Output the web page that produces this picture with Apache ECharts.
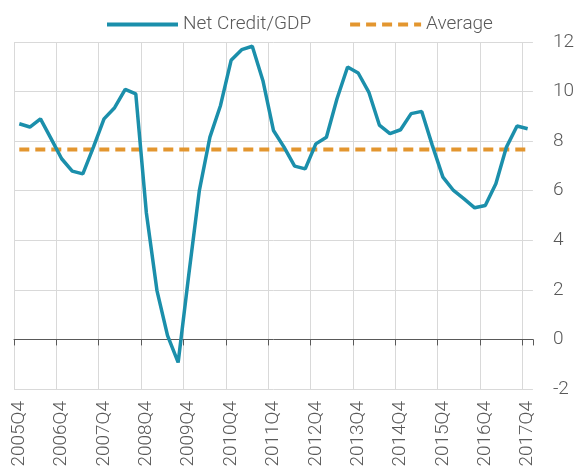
<!DOCTYPE html>
<html>
<head>
    <meta charset="utf-8">
    <title>Net Credit/GDP</title>
    <script src="https://cdn.jsdelivr.net/npm/echarts@6/dist/echarts.min.js"></script>
    <style>
        html, body {margin: 0; padding: 0; background: #ffffff;}
        #chart {width: 577px; height: 476px;}
    </style>
</head>
<body>
<div id="chart"></div>
<script>
    // quarters 2005Q4 .. 2017Q4
    var quarters = [
        '2005Q4', '2006Q1', '2006Q2', '2006Q3', '2006Q4', '2007Q1', '2007Q2', '2007Q3',
        '2007Q4', '2008Q1', '2008Q2', '2008Q3', '2008Q4', '2009Q1', '2009Q2', '2009Q3',
        '2009Q4', '2010Q1', '2010Q2', '2010Q3', '2010Q4', '2011Q1', '2011Q2', '2011Q3',
        '2011Q4', '2012Q1', '2012Q2', '2012Q3', '2012Q4', '2013Q1', '2013Q2', '2013Q3',
        '2013Q4', '2014Q1', '2014Q2', '2014Q3', '2014Q4', '2015Q1', '2015Q2', '2015Q3',
        '2015Q4', '2016Q1', '2016Q2', '2016Q3', '2016Q4', '2017Q1', '2017Q2', '2017Q3',
        '2017Q4'
    ];
    var netCredit = [
        8.70, 8.57, 8.90, 8.10, 7.29, 6.79, 6.68, 7.76,
        8.90, 9.35, 10.09, 9.91, 5.10, 1.97, 0.15, -0.93,
        2.60, 6.00, 8.16, 9.44, 11.26, 11.69, 11.83, 10.45,
        8.43, 7.76, 6.99, 6.88, 7.89, 8.16, 9.71, 10.99,
        10.75, 9.98, 8.65, 8.30, 8.46, 9.11, 9.20, 7.83,
        6.55, 6.01, 5.67, 5.31, 5.40, 6.28, 7.76, 8.61,
        8.50
    ];
    var averageLevel = 7.66;
    var yTicks = {min: -2, max: 12, step: 2};

    var txt = '#595959';
    var font = 'Roboto';

    var chart = echarts.init(document.getElementById('chart'));

    var option = {
        animation: false,
        legend: {
            left: 100,
            top: 10,
            itemWidth: 71,
            itemHeight: 20,
            itemGap: 37,
            itemStyle: {opacity: 0},
            lineStyle: {width: 4},
            textStyle: {color: txt, fontSize: 19, fontFamily: font, fontWeight: 300},
            data: ['Net Credit/GDP', 'Average']
        },
        grid: {left: 14, right: 44, top: 42, bottom: 87},
        xAxis: [
            {
                type: 'category',
                data: quarters,
                boundaryGap: true,
                position: 'bottom',
                axisLine: {onZero: true, lineStyle: {color: '#595959', width: 1}},
                axisTick: {show: true, interval: 3, length: 6, lineStyle: {color: '#595959'}},
                axisLabel: {show: false},
                splitLine: {
                    show: true,
                    interval: 3,
                    showMaxLine: false,
                    lineStyle: {color: '#d9d9d9', width: 1}
                }
            },
            {
                type: 'category',
                data: quarters,
                boundaryGap: true,
                position: 'bottom',
                axisLine: {show: false, onZero: false},
                axisTick: {show: false},
                splitLine: {show: false},
                axisLabel: {
                    interval: 3,
                    rotate: 90,
                    margin: 12,
                    color: txt,
                    fontSize: 19,
                    fontFamily: font,
                    fontWeight: 300
                }
            }
        ],
        yAxis: {
            type: 'value',
            position: 'right',
            min: yTicks.min,
            max: yTicks.max,
            interval: yTicks.step,
            axisLine: {show: false},
            axisTick: {show: false},
            axisLabel: {margin: 20, color: txt, fontSize: 19, fontFamily: font, fontWeight: 300},
            splitLine: {lineStyle: {color: '#d9d9d9', width: 1}}
        },
        series: [
            {
                name: 'Net Credit/GDP',
                type: 'line',
                data: netCredit,
                symbol: 'none',
                lineStyle: {color: '#1b8fab', width: 3.5},
                itemStyle: {color: '#1b8fab'},
                z: 3
            },
            {
                name: 'Average',
                type: 'line',
                data: quarters.map(function () { return averageLevel; }),
                symbol: 'none',
                lineStyle: {color: '#e3962f', width: 4, type: [10, 6]},
                itemStyle: {color: '#e3962f'},
                z: 2
            }
        ]
    };
    chart.setOption(option);
</script>
</body>
</html>
